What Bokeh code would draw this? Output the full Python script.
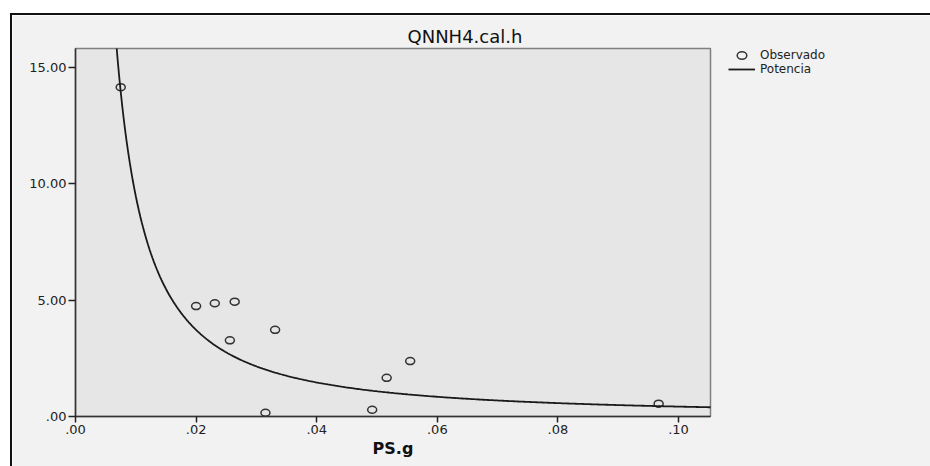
import numpy as np
from bokeh.plotting import figure
from bokeh.models import (Range1d, FixedTicker, CustomJSTickFormatter, Legend,
                          LegendItem)
from bokeh.embed import file_html
from bokeh.resources import INLINE

# ---- data ----
ps_g = [0.0075, 0.0200, 0.0231, 0.0264, 0.0256, 0.0331, 0.0315, 0.0492, 0.0516, 0.0555, 0.0967]
qnnh4 = [14.14, 4.74, 4.86, 4.93, 3.27, 3.72, 0.16, 0.29, 1.66, 2.38, 0.55]

x_ticks = [0.0, 0.02, 0.04, 0.06, 0.08, 0.10]
x_tick_labels = [".00", ".02", ".04", ".06", ".08", ".10"]
y_ticks = [0, 5, 10, 15]
y_tick_labels = [".00", "5.00", "10.00", "15.00"]

title_text = "QNNH4.cal.h"
x_label = "PS.g"
legend_labels = ["Observado", "Potencia"]

# ---- power model fitted to the observed points (log-log least squares) ----
b_exp, ln_a = np.polyfit(np.log(ps_g), np.log(qnnh4), 1)
curve_x = np.linspace(0.006, 0.106, 400)
curve_y = np.exp(ln_a) * curve_x ** b_exp

FONT = "DejaVu Sans"

p = figure(frame_width=635, frame_height=368,
           x_range=Range1d(0, 0.1053), y_range=Range1d(0, 15.8),
           output_backend="svg", toolbar_location=None,
           min_border_left=63, min_border_right=220,
           min_border_top=33, min_border_bottom=50)
p.styles = {"border-top": "2px solid #111", "border-left": "2px solid #111",
            "margin-top": "13px", "margin-left": "10px"}

p.background_fill_color = "#e6e6e6"
p.border_fill_color = "#f2f2f2"
p.outline_line_color = "#808080"
p.outline_line_width = 1.5
p.xgrid.visible = False
p.ygrid.visible = False

fmt_code = """
let best = 0;
for (let i = 0; i < tv.length; i++) {
  if (Math.abs(tv[i] - tick) < Math.abs(tv[best] - tick)) best = i;
}
return lb[best];
"""
p.xaxis.ticker = FixedTicker(ticks=x_ticks)
p.xaxis.formatter = CustomJSTickFormatter(args=dict(tv=x_ticks, lb=x_tick_labels), code=fmt_code)
p.yaxis.ticker = FixedTicker(ticks=y_ticks)
p.yaxis.formatter = CustomJSTickFormatter(args=dict(tv=y_ticks, lb=y_tick_labels), code=fmt_code)

for ax in (p.xaxis, p.yaxis):
    ax.minor_tick_line_color = None
    ax.major_tick_in = 0
    ax.major_tick_line_color = "#222222"
    ax.major_tick_line_width = 1.5
    ax.axis_line_color = "#333333"
    ax.axis_line_width = 1.5
    ax.major_label_text_font = FONT
    ax.major_label_text_font_size = "13px"
    ax.major_label_text_color = "#222222"
    ax.major_label_standoff = 2
p.xaxis.major_tick_out = 6
p.yaxis.major_tick_out = 7

p.xaxis.axis_label = x_label
p.xaxis.axis_label_text_font = FONT
p.xaxis.axis_label_text_font_size = "16px"
p.xaxis.axis_label_text_font_style = "bold"
p.xaxis.axis_label_text_color = "#111111"
p.xaxis.axis_label_standoff = 2

p.title.text = title_text
p.title.align = "left"
p.title.offset = 332
p.title.text_font = FONT
p.title.text_font_size = "18px"
p.title.text_font_style = "normal"
p.title.text_color = "#111111"
p.title.standoff = 3

r_pts = p.ellipse(x=ps_g, y=qnnh4, width=9, height=7,
                  width_units="screen", height_units="screen",
                  fill_color=None, line_color="#333333", line_width=1.5)
r_line = p.line(curve_x, curve_y, line_color="#1a1a1a", line_width=1.8)

legend = Legend(items=[LegendItem(label=legend_labels[0], renderers=[r_pts]),
                       LegendItem(label=legend_labels[1], renderers=[r_line])],
                location=(18, 340),
                glyph_width=27, glyph_height=12, label_height=12,
                label_standoff=5, spacing=0, padding=0, margin=0,
                border_line_color=None, background_fill_alpha=0,
                label_text_font=FONT, label_text_font_size="12px",
                label_text_color="#222222")
p.add_layout(legend, "right")

open("out.html", "w").write(file_html(p, INLINE))
